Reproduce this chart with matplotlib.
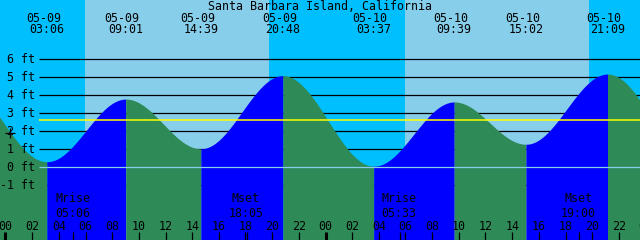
import numpy as np
import matplotlib
matplotlib.use("Agg")
import matplotlib.pyplot as plt

# ---------------- data ----------------
title = "Santa Barbara Island, California"

# tide extremes (first and last lie just off the chart, estimated)
tide_dates = ["05-08", "05-09", "05-09", "05-09", "05-09", "05-10", "05-10", "05-10", "05-10", "05-11"]
tide_times = ["20:25", "03:06", "09:01", "14:39", "20:48", "03:37", "09:39", "15:02", "21:09", "04:08"]
tide_heights = [4.85, 0.31, 3.79, 1.03, 5.09, 0.06, 3.63, 1.28, 5.18, -0.20]

sunrise_days = ["05-09", "05-10"]
sunrise_times = ["05:58", "05:58"]
sunset_days = ["05-09", "05-10"]
sunset_times = ["19:46", "19:46"]

moon_events = ["Mrise", "Mset", "Mrise", "Mset"]
moon_days = ["05-09", "05-09", "05-10", "05-10"]
moon_times = ["05:06", "18:05", "05:33", "19:00"]

mean_level = 2.61
y_ticks = [-1, 0, 1, 2, 3, 4, 5, 6]
hour_ticks = list(range(0, 49, 2))
now_marker = (0.34, 1.90)

# ---------------- helpers ----------------
DAY0 = {"05-08": -24, "05-09": 0, "05-10": 24, "05-11": 48}


def to_hours(day, hm):
    h, m = hm.split(":")
    return DAY0[day] + int(h) + int(m) / 60.0


W, H = 640, 240
X0, PXH = 5.5, 40.0 / 3.0      # pixel of t=0, pixels per hour
Y0, PXF = 167.3, 18.0          # pixel of 0 ft, pixels per ft

NIGHT = "#00BFFF"
DAY = "#87CEEB"
RISE = "#0000FF"
FALL = "#2E8B57"
FONT = "DejaVu Sans Mono"
FS = 8.4

fig = plt.figure(figsize=(6.4, 2.4), dpi=100)
ax = fig.add_axes([0, 0, 1, 1])
xmin, xmax = -X0 / PXH, (W - X0) / PXH
ymin, ymax = (Y0 - H) / PXF, Y0 / PXF
ax.set_xlim(xmin, xmax)
ax.set_ylim(ymin, ymax)
ax.axis("off")


def px_y(y):  # pixel row -> axes fraction
    return 1 - y / H


xt = ax.get_xaxis_transform()

# sky: night / day
rises = [to_hours(d, t) for d, t in zip(sunrise_days, sunrise_times)]
sets = [to_hours(d, t) for d, t in zip(sunset_days, sunset_times)]
edges = [xmin] + sorted(rises + sets) + [xmax]
for i in range(len(edges) - 1):
    col = NIGHT if i % 2 == 0 else DAY
    ax.axvspan(edges[i], edges[i + 1], color=col, lw=0, zorder=0, antialiased=False)

# grid lines behind water
grid_x0 = (39 - X0) / PXH
ax.hlines(y_ticks, grid_x0, xmax, color="black", lw=0.9, zorder=1)

# tide curve with cosine interpolation between extremes
tt = np.array([to_hours(d, t) for d, t in zip(tide_dates, tide_times)])
hh = np.array(tide_heights)
for i in range(len(tt) - 1):
    ts = np.linspace(tt[i], tt[i + 1], 200)
    f = (ts - tt[i]) / (tt[i + 1] - tt[i])
    hs = hh[i] + (hh[i + 1] - hh[i]) * (1 - np.cos(np.pi * f)) / 2
    col = RISE if hh[i + 1] > hh[i] else FALL
    ax.fill_between(ts, ymin, hs, color=col, lw=0, zorder=2, antialiased=False)

# zero and mean lines
ax.hlines(0, grid_x0, xmax, color=DAY, lw=0.9, zorder=3)
ax.hlines(mean_level, grid_x0, xmax, color="#FFFF00", lw=1.1, zorder=3)

# y labels
for v in y_ticks:
    fig.text(35 / W, px_y(Y0 - v * PXF + 4), f"{v} ft", fontsize=FS, family=FONT,
             ha="right", va="baseline", zorder=5)

# now marker
ax.plot([now_marker[0]], [now_marker[1]], marker="+", color="black", ms=7, mew=0.9, zorder=6)

# title
fig.text(0.5, px_y(9.5), title, fontsize=FS, family=FONT, ha="center", va="baseline")

# tide labels
for d, t, x in zip(tide_dates, tide_times, tt):
    if xmin < x < xmax:
        ax.text(x - 3.5 / PXH, px_y(21.7), d, transform=xt, fontsize=FS, family=FONT,
                ha="center", va="baseline", zorder=6)
        ax.text(x, px_y(33.3), t, transform=xt, fontsize=FS, family=FONT,
                ha="center", va="baseline", zorder=6)

# hour ticks and labels
for hr in hour_ticks:
    lw = 2.2 if hr % 24 == 0 else 0.9
    ax.plot([hr, hr], [px_y(232), px_y(240)], transform=xt, color="black", lw=lw,
            solid_capstyle="butt", zorder=6)
    ax.text(hr, px_y(230.3), f"{hr % 24:02d}", transform=xt, fontsize=FS, family=FONT,
            ha="center", va="baseline", zorder=6)

# moon events
for ev, d, t in zip(moon_events, moon_days, moon_times):
    x = to_hours(d, t)
    ax.plot([x, x], [px_y(232), px_y(240)], transform=xt, color="black", lw=0.9,
            solid_capstyle="butt", zorder=6)
    ax.text(x - 0.7 / PXH, px_y(217.3), f"{ev}\n{t}", transform=xt, fontsize=FS,
            family=FONT, ha="center", va="baseline", linespacing=1.24, zorder=6)

fig.savefig("out.png", dpi=100)
